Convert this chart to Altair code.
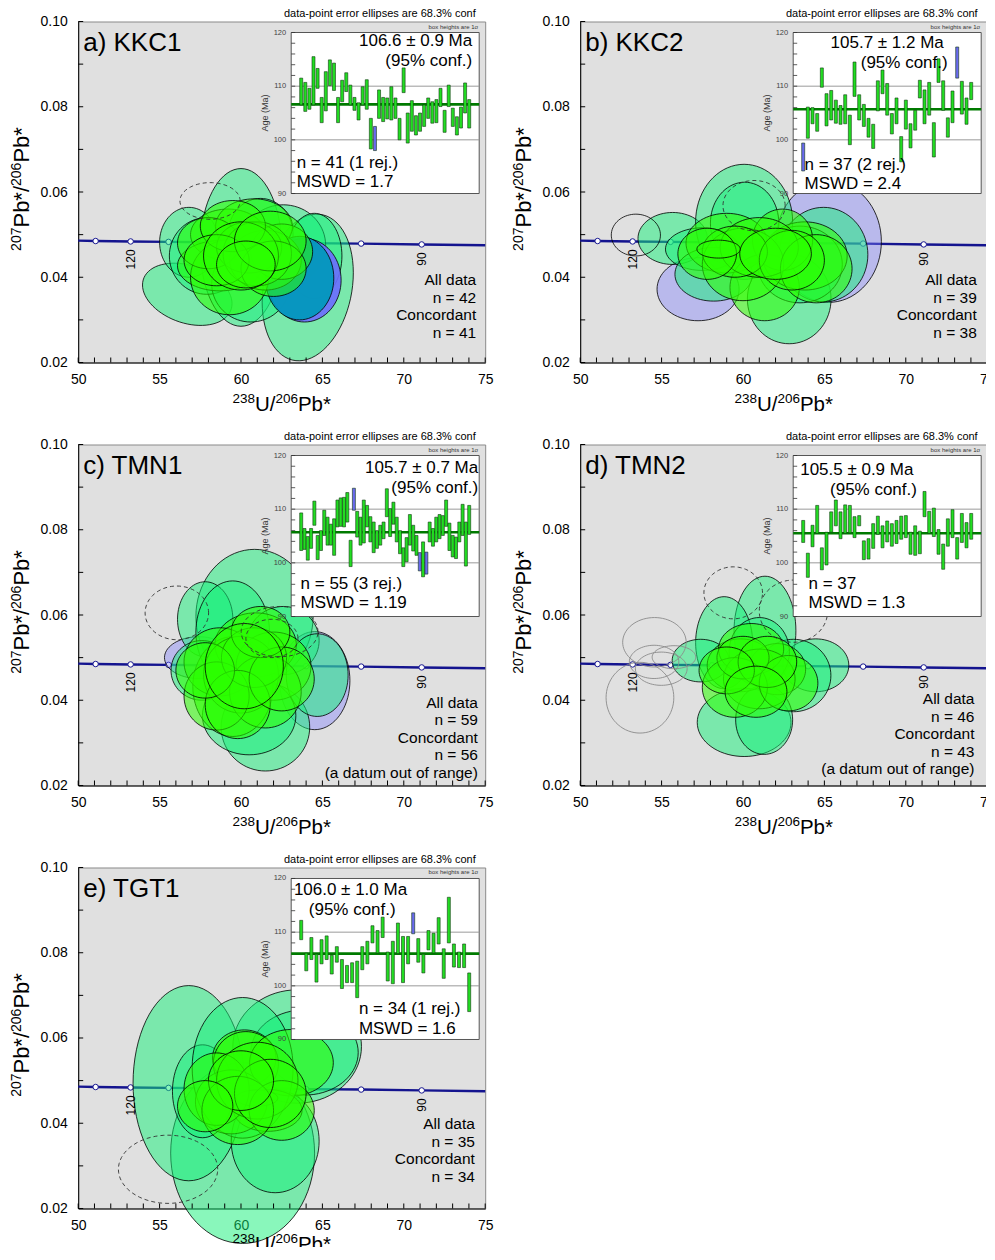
import numpy as np
import pandas as pd
import altair as alt

FONT = "Liberation Sans"
W, H = 407, 341
BL, BR, BT, BB = 213, 401, 11, 172   # inset box (panel pixels)

X_TITLE_PARTS = [("238", "sup"), ("U/", "main"), ("206", "sup"), ("Pb*", "main")]
Y_TITLE_PARTS = [("207", "sup"), ("Pb*/", "main"), ("206", "sup"), ("Pb*", "main")]
X_TICKS = [50, 55, 60, 65, 70, 75]
Y_TICKS = [0.02, 0.04, 0.06, 0.08, 0.10]
X_MINOR = list(range(50, 76))
Y_MINOR = [0.02, 0.03, 0.04, 0.05, 0.06, 0.07, 0.08, 0.09, 0.10]

# concordia curve and age markers
CONC_X = [50, 51.07, 53.22, 55.55, 58.1, 60.9, 64.0, 67.38, 71.1, 75]
CONC_Y = [0.0486, 0.0485, 0.0484, 0.0483, 0.0482, 0.0481, 0.0480, 0.0479, 0.0477, 0.0475]
MARK_X = [51.07, 53.22, 55.55, 58.1, 60.9, 64.0, 67.38, 71.1]
MARK_Y = [0.0485, 0.0484, 0.0483, 0.0482, 0.0481, 0.0480, 0.0479, 0.0477]
AGE_LAB_X = [53.22, 71.1]
AGE_LAB_Y = [0.0484, 0.0477]
AGE_LAB_T = ["120", "90"]

INSET_TICKS = [90, 92, 94, 96, 98, 100, 102, 104, 106, 108, 110, 112, 114, 116, 118, 120]
INSET_LABELS = [90, 100, 110, 120]
INSET_GRID = [100, 110]

# ---- ellipses: (kind, centre x, centre y, half-width x, half-height y, rho)
A_ELL = [
    ("L", 56.7, 0.0360, 2.75, 0.0073, -0.3), ("L", 60.0, 0.0470, 2.5, 0.0185, 0.0),
    ("L", 64.1, 0.0376, 2.8, 0.0172, 0.2), ("L", 56.8, 0.0482, 1.8, 0.0082, 0.0),
    ("L", 57.9, 0.0450, 2.3, 0.0090, 0.0), ("L", 60.6, 0.0385, 2.4, 0.0090, 0.0),
    ("L", 62.6, 0.0475, 2.6, 0.0095, 0.0), ("L", 61.2, 0.0500, 2.0, 0.0085, 0.0),
    ("L", 64.5, 0.0450, 1.7, 0.0100, 0.0),
    ("B", 63.9, 0.0393, 2.25, 0.0098, 0.0), ("T", 63.6, 0.0398, 2.1, 0.0098, 0.0),
    ("S", 59.2, 0.0500, 2.3, 0.0060, 0.0), ("S", 60.8, 0.0519, 2.36, 0.0065, 0.0),
    ("S", 58.7, 0.0427, 2.6, 0.0059, 0.0), ("S", 59.3, 0.0400, 2.4, 0.0088, 0.0),
    ("S", 61.5, 0.0440, 2.2, 0.0070, 0.0), ("S", 62.5, 0.0460, 1.9, 0.0065, 0.0),
    ("S", 58.0, 0.0480, 1.9, 0.0060, 0.0), ("S", 60.5, 0.0470, 2.0, 0.0060, 0.0),
    ("S", 61.0, 0.0455, 2.1, 0.0075, 0.0), ("S", 59.5, 0.0520, 2.0, 0.0060, 0.0),
    ("S", 62.0, 0.0420, 2.0, 0.0065, 0.0), ("S", 58.5, 0.0440, 2.0, 0.0060, 0.0),
    ("S", 60.0, 0.0450, 2.3, 0.0080, 0.0), ("S", 61.8, 0.0485, 2.2, 0.0070, 0.0),
    ("S", 60.3, 0.0430, 1.8, 0.0055, 0.0),
    ("D", 58.1, 0.0579, 1.85, 0.0043, 0.0),
]
B_ELL = [
    ("V", 57.24, 0.0372, 2.52, 0.0074, 0.0), ("V", 65.26, 0.0484, 3.24, 0.0143, 0.0),
    ("O", 53.42, 0.0499, 1.51, 0.0049, 0.0),
    ("L", 55.68, 0.0491, 2.13, 0.0061, 0.0), ("L", 60.07, 0.0530, 2.98, 0.0135, 0.0),
    ("L", 60.1, 0.0527, 2.1, 0.0096, 0.0), ("L", 62.84, 0.0349, 2.57, 0.0105, 0.0),
    ("L", 64.95, 0.0453, 2.72, 0.0111, 0.0), ("L", 57.5, 0.0466, 2.26, 0.0050, 0.0),
    ("L", 58.2, 0.0407, 2.38, 0.0063, 0.0), ("L", 63.5, 0.0430, 2.6, 0.0090, 0.0),
    ("S", 59.0, 0.0480, 2.5, 0.0070, 0.0), ("S", 61.33, 0.0376, 2.13, 0.0078, 0.0),
    ("S", 63.8, 0.0450, 2.6, 0.0080, 0.0), ("S", 62.43, 0.0488, 1.85, 0.0072, 0.0),
    ("S", 60.0, 0.0430, 2.5, 0.0085, 0.0), ("S", 61.0, 0.0470, 2.4, 0.0070, 0.0),
    ("S", 64.5, 0.0420, 2.2, 0.0080, 0.0), ("S", 59.5, 0.0460, 2.0, 0.0060, 0.0),
    ("S", 63.0, 0.0440, 2.0, 0.0070, 0.0), ("S", 57.8, 0.0455, 1.8, 0.0060, 0.0),
    ("S", 62.0, 0.0455, 2.2, 0.0060, 0.0), ("S", 58.5, 0.0466, 1.33, 0.0021, 0.0),
    ("D", 60.68, 0.0568, 1.91, 0.0059, 0.0),
]
C_ELL = [
    ("V", 64.53, 0.0446, 2.16, 0.0115, 0.0), ("V", 57.4, 0.0500, 2.1, 0.0049, 0.0),
    ("L", 60.83, 0.0597, 3.6, 0.0157, 0.0), ("L", 61.5, 0.0337, 2.72, 0.0103, 0.0),
    ("L", 57.8, 0.0590, 1.7, 0.0088, 0.0), ("L", 59.49, 0.0560, 2.26, 0.0120, 0.0),
    ("L", 62.6, 0.0540, 2.2, 0.0080, 0.0), ("L", 64.68, 0.0459, 1.9, 0.0097, 0.0),
    ("L", 60.5, 0.0364, 2.87, 0.0092, 0.0), ("L", 57.6, 0.0470, 1.9, 0.0070, 0.0),
    ("S", 59.5, 0.0432, 2.46, 0.0117, 0.0), ("S", 60.9, 0.0530, 2.5, 0.0075, 0.0),
    ("S", 58.7, 0.0490, 2.2, 0.0080, 0.0), ("S", 62.0, 0.0480, 2.3, 0.0080, 0.0),
    ("S", 60.0, 0.0460, 2.3, 0.0090, 0.0), ("S", 61.5, 0.0420, 2.2, 0.0085, 0.0),
    ("S", 58.5, 0.0410, 2.0, 0.0080, 0.0), ("S", 60.8, 0.0500, 2.0, 0.0070, 0.0),
    ("S", 59.8, 0.0390, 2.0, 0.0080, 0.0), ("S", 62.5, 0.0450, 2.0, 0.0075, 0.0),
    ("S", 57.8, 0.0470, 1.8, 0.0065, 0.0), ("S", 61.2, 0.0560, 1.8, 0.0060, 0.0),
    ("S", 60.2, 0.0480, 2.4, 0.0100, 0.0),
    ("D", 56.06, 0.0605, 1.95, 0.0063, 0.0), ("D", 62.37, 0.0561, 2.36, 0.0059, 0.0),
    ("D", 61.9, 0.0545, 1.6, 0.0045, 0.0),
]
D_ELL = [
    ("L", 61.35, 0.0563, 1.9, 0.0128, 0.0), ("L", 58.84, 0.0535, 1.75, 0.0108, 0.0),
    ("L", 57.4, 0.0493, 1.75, 0.0050, 0.0), ("L", 64.47, 0.0482, 2.03, 0.0062, 0.0),
    ("L", 60.07, 0.0348, 2.88, 0.0080, 0.0), ("L", 63.1, 0.0458, 2.3, 0.0085, 0.0),
    ("L", 61.0, 0.0514, 1.85, 0.0080, 0.0), ("L", 61.3, 0.0354, 1.75, 0.0081, 0.0),
    ("S", 59.85, 0.0482, 2.05, 0.0062, 0.0), ("S", 62.1, 0.0473, 1.75, 0.0060, 0.0),
    ("S", 60.5, 0.0520, 2.0, 0.0060, 0.0), ("S", 61.0, 0.0450, 2.2, 0.0070, 0.0),
    ("S", 59.5, 0.0430, 2.0, 0.0070, 0.0), ("S", 62.8, 0.0440, 1.8, 0.0065, 0.0),
    ("S", 60.0, 0.0500, 1.6, 0.0050, 0.0), ("S", 61.5, 0.0490, 1.8, 0.0060, 0.0),
    ("S", 59.0, 0.0470, 1.7, 0.0055, 0.0), ("S", 60.8, 0.0420, 1.9, 0.0060, 0.0),
    ("D", 59.4, 0.0652, 1.8, 0.0061, 0.0), ("D", 63.1, 0.0609, 2.1, 0.0073, 0.0),
    ("G", 54.56, 0.0536, 1.95, 0.0058, 0.0), ("G", 53.67, 0.0406, 2.08, 0.0083, 0.0),
    ("G", 54.54, 0.0490, 1.52, 0.0039, 0.0), ("G", 54.98, 0.0474, 1.59, 0.0039, 0.0),
    ("G", 55.76, 0.0501, 1.34, 0.0027, 0.0),
]
E_ELL = [
    ("L", 60.1, 0.0330, 4.42, 0.0212, 0.0), ("L", 56.79, 0.0494, 3.42, 0.0229, 0.0),
    ("L", 63.45, 0.0580, 3.95, 0.0133, 0.0), ("L", 63.9, 0.0566, 3.3, 0.0100, 0.0),
    ("L", 62.1, 0.0358, 2.7, 0.0121, 0.0), ("L", 57.64, 0.0475, 1.85, 0.0109, 0.0),
    ("L", 60.1, 0.0530, 3.1, 0.0165, 0.0),
    ("S", 60.2, 0.0553, 1.95, 0.0066, 0.0), ("S", 60.3, 0.0540, 2.0, 0.0075, 0.0),
    ("S", 63.1, 0.0542, 2.57, 0.0078, 0.0), ("S", 61.65, 0.0430, 2.1, 0.0049, 0.0),
    ("S", 59.4, 0.0450, 2.2, 0.0075, 0.0), ("S", 60.98, 0.0459, 1.28, 0.0019, 0.0),
    ("S", 58.5, 0.0480, 2.0, 0.0085, 0.0), ("S", 61.0, 0.0500, 2.5, 0.0090, 0.0),
    ("S", 62.5, 0.0430, 2.0, 0.0070, 0.0), ("S", 59.8, 0.0430, 2.2, 0.0080, 0.0),
    ("S", 61.8, 0.0470, 2.2, 0.0080, 0.0), ("S", 60.0, 0.0500, 2.0, 0.0070, 0.0),
    ("S", 57.8, 0.0440, 1.7, 0.0060, 0.0),
    ("D", 55.52, 0.0292, 3.05, 0.0080, 0.0),
]

# ---- inset weighted-mean bars (age, Ma)
A_HI = [111.5, 110.7, 109.6, 115.5, 113.3, 107.9, 112.7, 114.9, 114.3, 107.9, 111.1, 112.5, 110.2, 107.9,
        106.9, 109.9, 111.2, 104.0, 102.5, 109.3, 107.9, 107.8, 109.9, 107.8, 104.0, 113.4, 105.0, 107.3,
        104.5, 105.0, 106.5, 107.8, 107.1, 107.5, 109.6, 105.5, 110.2, 105.9, 104.3, 106.1, 110.6, 107.5]
A_LO = [106.5, 105.3, 105.7, 106.5, 109.6, 103.2, 105.4, 110.1, 109.2, 103.2, 107.1, 109.0, 106.5, 105.5,
        103.7, 106.5, 105.7, 98.3, 98.0, 104.0, 103.4, 103.9, 103.7, 104.0, 100.0, 108.8, 99.4, 101.6,
        100.9, 101.6, 102.5, 104.0, 103.1, 103.2, 106.2, 101.4, 106.2, 102.5, 100.9, 102.2, 105.0, 102.2]
A_REJ = [19]
B_HI = [99.4, 106.1, 106.0, 104.9, 113.4, 108.6, 109.2, 107.4, 106.4, 108.4, 104.6, 114.5, 108.4, 106.6,
        104.0, 102.9, 111.0, 113.0, 110.5, 104.9, 107.8, 100.6, 107.4, 103.0, 105.5, 111.1, 109.3, 110.7,
        103.2, 115.1, 111.0, 104.1, 109.1, 117.3, 110.9, 107.8, 110.7]
B_LO = [94.2, 100.3, 103.0, 101.6, 109.8, 102.6, 103.7, 103.1, 102.9, 103.0, 99.1, 108.1, 103.7, 102.5,
        100.5, 98.4, 105.4, 108.6, 104.6, 101.1, 103.0, 95.9, 102.0, 98.5, 101.8, 107.8, 103.0, 104.6,
        96.8, 110.7, 105.5, 100.5, 103.2, 111.5, 104.8, 102.9, 107.5]
B_REJ = [1, 34]
C_HI = [109.3, 106.4, 104.9, 106.4, 111.5, 105.1, 106.0, 109.8, 108.5, 107.2, 108.2, 111.7, 112.1, 112.2,
        113.1, 104.2, 113.9, 109.6, 108.5, 111.7, 110.7, 108.6, 107.6, 106.0, 107.0, 107.6, 113.8, 110.1,
        111.3, 108.5, 106.0, 102.8, 104.7, 109.0, 107.0, 105.1, 101.9, 103.9, 102.0, 107.6, 106.4, 108.5,
        109.0, 108.8, 111.7, 107.4, 105.1, 104.8, 107.6, 110.9, 107.6, 110.7]
C_LO = [102.3, 102.5, 100.5, 102.7, 107.0, 100.6, 102.3, 105.1, 103.3, 103.3, 101.4, 106.7, 106.8, 106.7,
        107.6, 99.3, 109.8, 104.8, 103.3, 103.7, 106.7, 103.9, 101.9, 102.7, 103.3, 104.5, 108.6, 104.9,
        107.2, 103.9, 101.7, 99.3, 100.2, 103.3, 102.2, 101.4, 98.5, 97.4, 97.9, 103.9, 103.1, 103.9,
        104.5, 105.1, 106.8, 102.3, 101.1, 100.8, 103.9, 105.1, 99.4, 105.3]
C_REJ = [17, 37, 39]
D_HI = [107.9, 101.8, 107.0, 110.7, 102.8, 105.7, 109.5, 111.7, 109.5, 110.8, 110.7, 108.6, 108.8, 104.1,
        104.5, 107.3, 108.7, 106.9, 107.8, 107.3, 107.9, 108.7, 108.8, 105.7, 106.9, 105.9, 113.3, 109.6,
        110.2, 106.2, 103.5, 108.2, 109.9, 104.7, 109.2, 107.5, 109.2]
D_LO = [103.8, 97.3, 103.0, 105.5, 98.7, 99.6, 105.7, 106.9, 104.5, 105.5, 105.6, 104.7, 106.9, 100.6,
        100.7, 102.7, 105.3, 102.8, 103.9, 103.1, 103.6, 104.4, 104.7, 101.6, 101.4, 101.7, 108.6, 105.5,
        104.9, 101.6, 98.8, 103.1, 104.7, 100.7, 103.8, 102.8, 104.4]
D_REJ = []
E_HI = [112.2, 106.1, 109.0, 105.9, 108.6, 109.3, 105.7, 107.3, 104.9, 103.8, 104.3, 104.6, 107.3, 108.3,
        111.2, 110.3, 112.8, 106.3, 108.3, 111.7, 109.2, 109.2, 113.6, 108.8, 105.9, 110.3, 109.8, 112.7,
        106.9, 116.5, 107.8, 106.3, 107.8, 102.4]
E_LO = [108.6, 102.8, 104.9, 100.7, 104.1, 104.9, 102.2, 104.4, 99.5, 100.6, 100.6, 97.8, 103.0, 104.1,
        108.0, 106.1, 109.0, 100.9, 100.4, 106.0, 100.6, 104.1, 109.7, 104.4, 102.4, 106.7, 106.1, 107.8,
        101.4, 108.0, 103.5, 103.4, 103.4, 95.2]
E_REJ = [23]

MEANS = [106.6, 105.7, 105.7, 105.5, 106.0]
LABELS = ["a) KKC1", "b) KKC2", "c) TMN1", "d) TMN2", "e) TGT1"]
AGE_TXT = ["106.6 ± 0.9 Ma", "105.7 ± 1.2 Ma", "105.7 ± 0.7 Ma", "105.5 ± 0.9 Ma", "106.0 ± 1.0 Ma"]
N_TXT = ["n = 41 (1 rej.)", "n = 37 (2 rej.)", "n = 55 (3 rej.)", "n = 37", "n = 34 (1 rej.)"]
MSWD_TXT = ["MSWD = 1.7", "MSWD = 2.4", "MSWD = 1.19", "MSWD = 1.3", "MSWD = 1.6"]
BLOCKS = [
    ["All data", "n = 42", "Concordant", "n = 41"],
    ["All data", "n = 39", "Concordant", "n = 38"],
    ["All data", "n = 59", "Concordant", "n = 56", "(a datum out of range)"],
    ["All data", "n = 46", "Concordant", "n = 43", "(a datum out of range)"],
    ["All data", "n = 35", "Concordant", "n = 34"],
]

# ---- layout / style (pixels inside each panel)
LAYOUT = [
    dict(age=("right", 394, 19.3), conf=("right", 394, 39.3), n=("left", 218.5, 141), mswd=("left", 218.5, 160.3), block=(398, 258.6), xt=48.3),
    dict(age=("center", 307, 21), conf=("center", 324, 41), n=("left", 224.3, 143.6), mswd=("left", 224.3, 162.6), block=(396.6, 258.6), xt=48.3),
    dict(age=("right", 400, 23.4), conf=("right", 400, 43.4), n=("left", 222.4, 139.4), mswd=("left", 222.4, 158.4), block=(399.7, 258.4), xt=48.3),
    dict(age=("left", 220, 25.4), conf=("center", 293.3, 45.4), n=("left", 228.3, 139.4), mswd=("left", 228.3, 158.7), block=(394.3, 255), xt=48.3),
    dict(age=("left", 215.7, 22.7), conf=("center", 274, 42.7), n=("left", 280.7, 142), mswd=("left", 280.7, 161.7), block=(396.7, 256.7), xt=42.5),
]
EM = {"0": .556, "1": .556, "2": .556, "3": .556, "4": .556, "5": .556, "6": .556, "7": .556, "8": .556, "9": .556,
      "U": .722, "P": .667, "b": .556, "*": .389, "/": .278}
XT_SIZE = {"main": 20.5, "sup": 13.5}
YT_SIZE = {"main": 22, "sup": 14}

KIND_STYLE = {
    "V": dict(fill="#8080ff", fillOpacity=0.4, stroke="black", strokeWidth=0.8),
    "L": dict(fill="#14f078", fillOpacity=0.5, stroke="black", strokeWidth=0.8),
    "B": dict(fill="#6b6bff", fillOpacity=0.9, stroke="black", strokeWidth=0.8),
    "T": dict(fill="#0099bb", fillOpacity=0.92, stroke="black", strokeWidth=0.8),
    "S": dict(fill="#2bff00", fillOpacity=0.55, stroke="black", strokeWidth=0.8),
    "D": dict(stroke="#333333", strokeWidth=0.9, strokeDash=[4, 3]),
    "O": dict(stroke="black", strokeWidth=0.8),
    "G": dict(stroke="#8a8a8a", strokeWidth=0.9),
}
KIND_ORDER = ["V", "L", "B", "T", "S", "D", "O", "G"]

XS = alt.Scale(domain=[50, 75], nice=False, zero=False)
YS = alt.Scale(domain=[0.02, 0.10], nice=False, zero=False)
AX_X = alt.Axis(values=X_TICKS, ticks=False, tickSize=0, grid=False, domainColor="black", domainWidth=1,
                labelFontSize=14, labelColor="black", labelPadding=10, labelFlush=False, labelFont=FONT)
AX_Y = alt.Axis(values=Y_TICKS, format=".2f", ticks=False, tickSize=0, grid=False, domainColor="black",
                domainWidth=1, labelFontSize=14, labelColor="black", labelPadding=11, labelFont=FONT)


def X(f):
    return alt.X(f, type="quantitative", scale=XS, axis=AX_X, title=None)


def Y(f):
    return alt.Y(f, type="quantitative", scale=YS, axis=AX_Y, title=None)


def txt(s, x, y, align="left", size=17, angle=0, color="black", baseline="middle"):
    return alt.Chart(pd.DataFrame({"t": [s]})).mark_text(
        align=align, baseline=baseline, fontSize=size, angle=angle, color=color, font=FONT
    ).encode(text="t:N", x=alt.value(x), y=alt.value(y))


def width_of(s, size):
    return sum(EM[c] for c in s) * size


def x_title(base_y):
    out = []
    total = sum(width_of(s, XT_SIZE[k]) for s, k in X_TITLE_PARTS)
    x = W / 2 - total / 2
    for s, k in X_TITLE_PARTS:
        y = base_y if k == "main" else base_y - 8
        out.append(txt(s, x, H + y, size=XT_SIZE[k], baseline="alphabetic"))
        x += width_of(s, XT_SIZE[k])
    return out


def y_title():
    out = []
    total = sum(width_of(s, YT_SIZE[k]) for s, k in Y_TITLE_PARTS)
    y = H / 2 - 3 + total / 2
    for s, k in Y_TITLE_PARTS:
        x = -49 if k == "main" else -57.5
        out.append(txt(s, x, y, size=YT_SIZE[k], angle=270, baseline="alphabetic"))
        y -= width_of(s, YT_SIZE[k])
    return out


def ellipse_df(ell):
    t = np.linspace(0, 2 * np.pi, 73)
    rows = []
    for i, (k, cx, cy, sx, sy, r) in enumerate(ell):
        xs = cx + sx * np.cos(t)
        ys = cy + sy * (r * np.cos(t) + np.sqrt(1 - r * r) * np.sin(t))
        for j in range(len(t)):
            rows.append((f"e{i:03d}", j, k, xs[j], ys[j]))
    return pd.DataFrame(rows, columns=["id", "o", "k", "x", "y"])


def panel(idx, ell, hi, lo, rej):
    lay = LAYOUT[idx]
    layers = []
    conc = pd.DataFrame({"x": CONC_X, "y": CONC_Y})
    layers.append(alt.Chart(conc).mark_line(color="#14148f", strokeWidth=2.4).encode(x=X("x"), y=Y("y")))
    marks = pd.DataFrame({"x": MARK_X, "y": MARK_Y})
    layers.append(alt.Chart(marks).mark_point(shape="circle", filled=True, fill="white", stroke="#14148f",
                                              strokeWidth=1, size=30, opacity=1).encode(x=X("x"), y=Y("y")))
    df = ellipse_df(ell)
    for k in KIND_ORDER:
        sub = df[df.k == k]
        if sub.empty:
            continue
        layers.append(alt.Chart(sub).mark_line(**KIND_STYLE[k]).encode(
            x=X("x"), y=Y("y"), detail="id:N", order="o:Q"))
    lab = pd.DataFrame({"x": AGE_LAB_X, "y": AGE_LAB_Y, "t": AGE_LAB_T})
    layers.append(alt.Chart(lab).mark_text(angle=270, align="right", baseline="middle", dx=-8,
                                           fontSize=12, font=FONT, color="black").encode(
        x=X("x"), y=Y("y"), text="t:N"))
    layers.append(alt.Chart(pd.DataFrame({"v": X_MINOR})).mark_rule(color="black", strokeWidth=1).encode(
        x=X("v"), y=alt.value(H), y2=alt.value(H - 5)))
    layers.append(alt.Chart(pd.DataFrame({"v": Y_MINOR})).mark_rule(color="black", strokeWidth=1).encode(
        y=Y("v"), x=alt.value(0), x2=alt.value(5)))
    layers.append(txt(LABELS[idx], 5, 21.5, size=26))
    layers.append(txt("data-point error ellipses are 68.3% conf", 397.5, -7.3, align="right", size=11))
    bx, by = lay["block"]
    for j, s in enumerate(BLOCKS[idx]):
        layers.append(txt(s, bx, by + 17.5 * j, align="right", size=15.5))
    layers += x_title(lay["xt"])
    layers += y_title()
    main = alt.layer(*layers)

    # ---- inset
    n = len(hi)
    ixs = alt.Scale(domain=[1, n], range=[BL + 5, BR - 5], nice=False, zero=False)
    iys = alt.Scale(domain=[90, 120], range=[BB, BT], nice=False, zero=False)
    IY = lambda f: alt.Y(f, type="quantitative", scale=iys, axis=None)
    ins = []
    ins.append(alt.Chart(pd.DataFrame({"a": [0]})).mark_rect(fill="white", stroke="#555555", strokeWidth=1).encode(
        x=alt.value(BL), x2=alt.value(BR), y=alt.value(BT), y2=alt.value(BB)))
    ins.append(alt.Chart(pd.DataFrame({"g": INSET_GRID})).mark_rule(color="#9a9a9a", strokeWidth=1).encode(
        y=IY("g"), x=alt.value(BL), x2=alt.value(BR)))
    ins.append(alt.Chart(pd.DataFrame({"v": INSET_TICKS})).mark_rule(color="#333333", strokeWidth=0.8).encode(
        y=IY("v"), x=alt.value(BL), x2=alt.value(BL + 4)))
    ins.append(alt.Chart(pd.DataFrame({"v": INSET_LABELS})).mark_text(
        align="right", baseline="middle", fontSize=7.5, font=FONT, color="#444444").encode(
        y=IY("v"), x=alt.value(BL - 5), text="v:Q"))
    ins.append(txt("Age (Ma)", BL - 26, (BT + BB) / 2, align="center", size=9, angle=270, color="#333333"))
    ins.append(txt("box heights are 1σ", BR - 1, BT - 6, align="right", size=6, color="#333333"))
    ins.append(alt.Chart(pd.DataFrame({"m": [MEANS[idx]]})).mark_rule(color="#007a00", strokeWidth=2.6).encode(
        y=IY("m"), x=alt.value(BL), x2=alt.value(BR)))
    bars = pd.DataFrame({
        "i": list(range(1, n + 1)), "hi": hi, "lo": lo,
        "c": ["#6a6aee" if (i + 1) in rej else "#22dd22" for i in range(n)],
    })
    ins.append(alt.Chart(bars).mark_bar(size=3, stroke="#103810", strokeWidth=0.6).encode(
        x=alt.X("i:Q", scale=ixs, axis=None), y=IY("lo"), y2="hi:Q", fill=alt.Fill("c:N", scale=None)))
    for key, s in (("age", AGE_TXT[idx]), ("conf", "(95% conf.)"), ("n", N_TXT[idx]), ("mswd", MSWD_TXT[idx])):
        al, xx, yy = lay[key]
        ins.append(txt(s, xx, yy, align=al, size=17))
    inset = alt.layer(*ins)
    return alt.layer(main, inset).resolve_scale(x="independent", y="independent").properties(width=W, height=H)


pa = panel(0, A_ELL, A_HI, A_LO, A_REJ)
pb = panel(1, B_ELL, B_HI, B_LO, B_REJ)
pc = panel(2, C_ELL, C_HI, C_LO, C_REJ)
pd_ = panel(3, D_ELL, D_HI, D_LO, D_REJ)
pe = panel(4, E_ELL, E_HI, E_LO, E_REJ)

chart = alt.concat(pa, pb, pc, pd_, pe, columns=2, spacing={"row": 82, "column": 95}, bounds="flush").properties(
    padding={"left": 1.2, "top": -0.5, "right": -10, "bottom": -9.5}
).configure(font=FONT).configure_view(fill="#e0e0e0", stroke="#8a8a8a", strokeWidth=1)

chart.save("out.html", embed_options={"renderer": "svg", "actions": False})
